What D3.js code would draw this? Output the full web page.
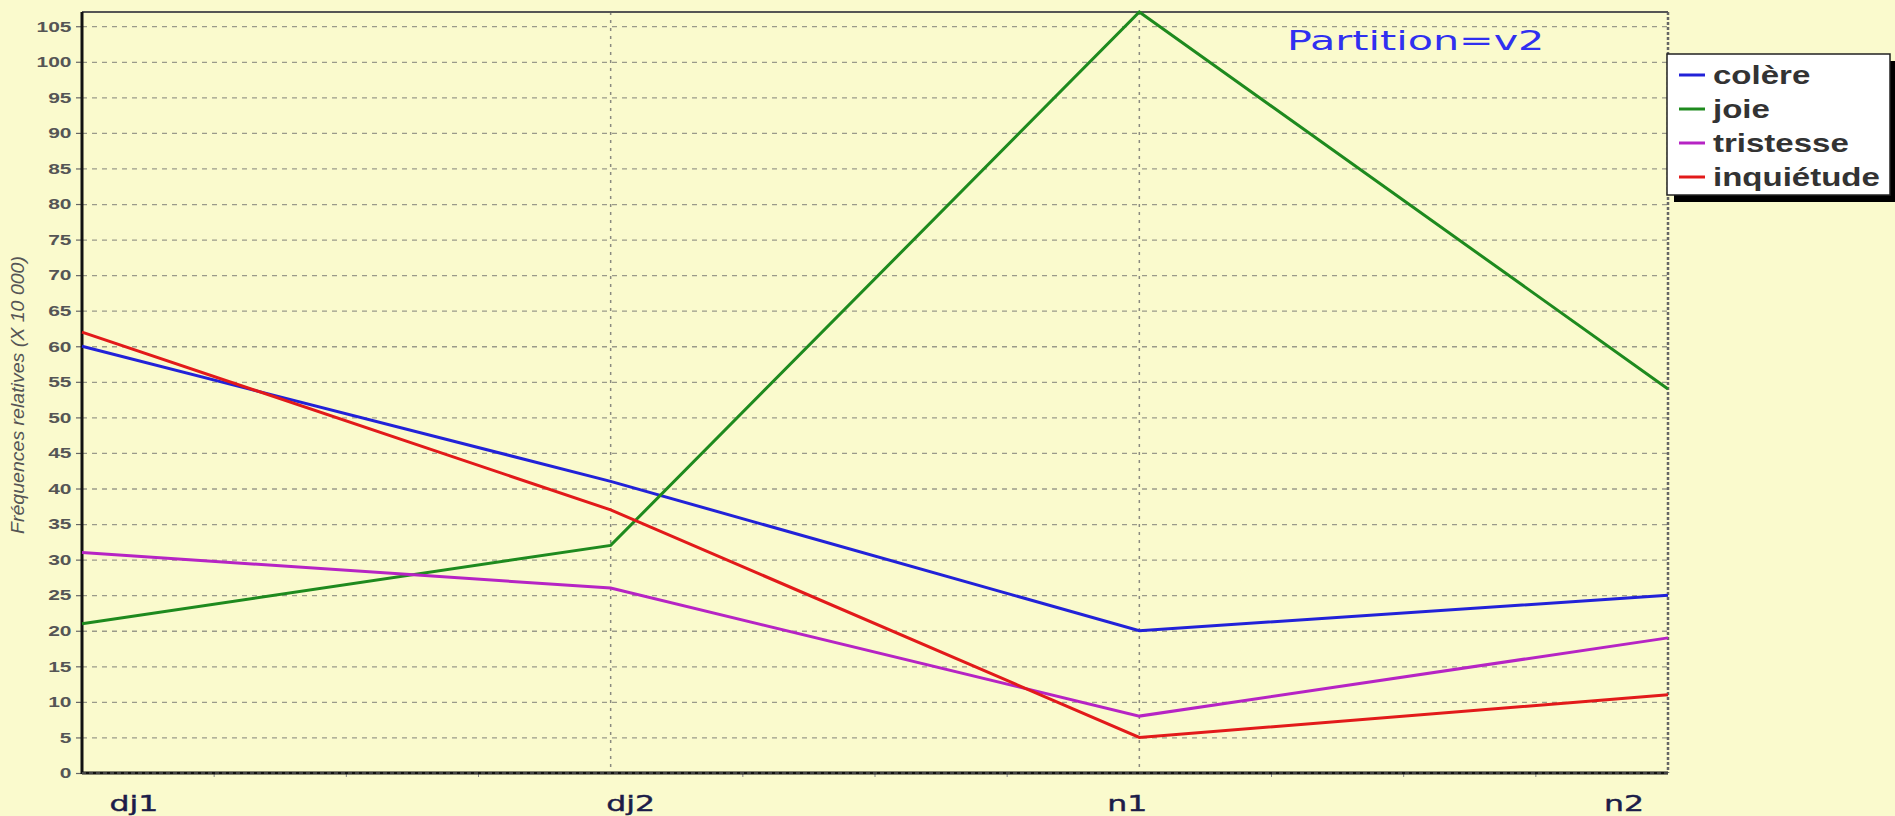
<!DOCTYPE html>
<html>
<head>
<meta charset="utf-8">
<script src="https://cdn.jsdelivr.net/npm/d3@7"></script>
<style>
  html, body { margin: 0; padding: 0; background: #fafacd; }
  svg { display: block; }
</style>
</head>
<body>
<div id="chart"></div>
<script>
// data
var categories = ["dj1", "dj2", "n1", "n2"]
var colere     = [60, 41, 20, 25]
var joie       = [21, 32, 107, 54]
var tristesse  = [31, 26, 8, 19]
var inquietude = [62, 37, 5, 11]
var seriesNames  = ["colère", "joie", "tristesse", "inquiétude"]
var seriesColors = ["#2222d8", "#1e8a1e", "#b624c4", "#e21a1a"]
var yTicks = d3.range(0, 110, 5)

var series = [colere, joie, tristesse, inquietude]

// set the dimensions of the graph (note: "top" is taken by window.top)
var width = 1895
var height = 816
var pLeft = 82, pRight = 1668, pTop = 12, pBottom = 773

var svg = d3.select("#chart")
  .append("svg")
  .attr("width", width)
  .attr("height", height)

svg.append("rect")
  .attr("width", width).attr("height", height)
  .attr("fill", "#fafacd")

// scales
var x = d3.scalePoint().domain(categories).range([pLeft, pRight])
var y = d3.scaleLinear().domain([0, 107]).range([pBottom, pTop])
// the category labels sit a bit inside the ticks in the original
var xLab = d3.scalePoint().domain(categories).range([134, 1624])

// horizontal grid
svg.append("g")
  .attr("transform", "translate(" + pLeft + ",0)")
  .call(d3.axisLeft(y).tickValues(yTicks.filter(function(d){ return d > 0 })).tickSize(-(pRight - pLeft)).tickFormat(""))
  .call(function(g){ g.select(".domain").remove() })
  .selectAll("line")
    .attr("stroke", "#9a9a8a")
    .attr("stroke-width", 1.3)
    .attr("stroke-dasharray", "5,5")

// vertical grid at inner categories
svg.append("g")
  .selectAll("line")
  .data(categories.slice(1, 3))
  .enter()
  .append("line")
    .attr("x1", function(d){ return x(d) })
    .attr("x2", function(d){ return x(d) })
    .attr("y1", pTop).attr("y2", pBottom)
    .attr("stroke", "#8a8a80")
    .attr("stroke-width", 1.5)
    .attr("stroke-dasharray", "3,5")

// right border (dashed) and top border
svg.append("line")
  .attr("x1", pRight).attr("x2", pRight).attr("y1", pTop).attr("y2", pBottom)
  .attr("stroke", "#666")
  .attr("stroke-width", 2.5)
  .attr("stroke-dasharray", "3,2")
svg.append("line")
  .attr("x1", pLeft).attr("x2", pRight).attr("y1", pTop).attr("y2", pTop)
  .attr("stroke", "#555")
  .attr("stroke-width", 2)

// y axis
var yAxis = svg.append("g")
  .attr("transform", "translate(" + pLeft + ",0)")
  .call(d3.axisLeft(y).tickValues(yTicks).tickSize(6).tickPadding(6))
yAxis.select(".domain").remove()
yAxis.selectAll("line").attr("stroke", "#666").attr("stroke-width", 1.2)
yAxis.selectAll("text")
  .attr("x", -7.5)
  .attr("transform", "scale(1.4,1)")
  .style("font-family", "Liberation Sans, Arial, sans-serif")
  .style("font-size", "15px")
  .style("font-weight", "bold")
  .attr("fill", "#555")
svg.append("line")
  .attr("x1", pLeft).attr("x2", pLeft).attr("y1", pTop).attr("y2", pBottom + 1)
  .attr("stroke", "#111")
  .attr("stroke-width", 3)

// x axis baseline with small quarter ticks
var step = x.step()
var minor = []
categories.slice(0, -1).forEach(function(c){
  for (var k = 1; k < 4; k++) minor.push(x(c) + step * k / 4)
})
svg.append("g")
  .selectAll("line")
  .data(minor)
  .enter()
  .append("line")
    .attr("x1", function(d){ return d }).attr("x2", function(d){ return d })
    .attr("y1", y(0)).attr("y2", y(0) + 4)
    .attr("stroke", "#888").attr("stroke-width", 1)
svg.append("line")
  .attr("x1", pLeft).attr("x2", pRight).attr("y1", y(0)).attr("y2", y(0))
  .attr("stroke", "#111")
  .attr("stroke-width", 3)
svg.append("line")
  .attr("x1", pLeft).attr("x2", pRight).attr("y1", y(0)).attr("y2", y(0))
  .attr("stroke", "#777")
  .attr("stroke-width", 1)
  .attr("stroke-dasharray", "4,3")

// x labels
svg.append("g")
  .selectAll("text")
  .data(categories)
  .enter()
  .append("text")
    .attr("transform", function(d){ return "translate(" + xLab(d) + ",811) scale(1.5,1)" })
    .attr("text-anchor", "middle")
    .style("font-family", "DejaVu Sans, Verdana, sans-serif")
    .style("font-size", "21px")
    .attr("fill", "#1c1c48")
    .attr("stroke", "#1c1c48")
    .attr("stroke-width", 0.4)
    .text(function(d){ return d })

// y title
svg.append("text")
  .attr("transform", "translate(24,395) rotate(-90)")
  .attr("text-anchor", "middle")
  .attr("textLength", 278)
  .attr("lengthAdjust", "spacingAndGlyphs")
  .style("font-family", "Liberation Sans, Arial, sans-serif")
  .style("font-size", "19px")
  .style("font-style", "italic")
  .attr("fill", "#555")
  .text("Fréquences relatives (X 10 000)")

// the lines
var line = d3.line()
  .x(function(d, i){ return x(categories[i]) })
  .y(function(d){ return y(d) })

svg.append("g")
  .selectAll("path")
  .data(series)
  .enter()
  .append("path")
    .attr("d", line)
    .attr("fill", "none")
    .attr("stroke", function(d, i){ return seriesColors[i] })
    .attr("stroke-width", 3)
    .attr("stroke-linejoin", "miter")

// partition label
svg.append("text")
  .attr("transform", "translate(1287,50) scale(1.53,1)")
  .style("font-family", "DejaVu Sans, Verdana, sans-serif")
  .style("font-size", "27px")
  .attr("fill", "#3030f0")
  .text("Partition=v2")

// legend
var lg = svg.append("g")
lg.append("rect")
  .attr("x", 1674).attr("y", 61).attr("width", 223).attr("height", 141)
  .attr("fill", "#000")
lg.append("rect")
  .attr("x", 1667).attr("y", 54).attr("width", 223).attr("height", 141)
  .attr("fill", "#fff")
  .attr("stroke", "#222")
  .attr("stroke-width", 1.5)
var rows = lg.selectAll("g.row")
  .data(seriesNames)
  .enter()
  .append("g")
    .attr("transform", function(d, i){ return "translate(0," + (84 + i * 34) + ")" })
rows.append("line")
  .attr("x1", 1679).attr("x2", 1705).attr("y1", -9).attr("y2", -9)
  .attr("stroke", function(d, i){ return seriesColors[i] })
  .attr("stroke-width", 3)
rows.append("text")
  .attr("transform", "translate(1713,0) scale(1.27,1)")
  .style("font-family", "Liberation Sans, Arial, sans-serif")
  .style("font-size", "26px")
  .style("font-weight", "bold")
  .attr("fill", "#333")
  .text(function(d){ return d })
</script>
</body>
</html>
